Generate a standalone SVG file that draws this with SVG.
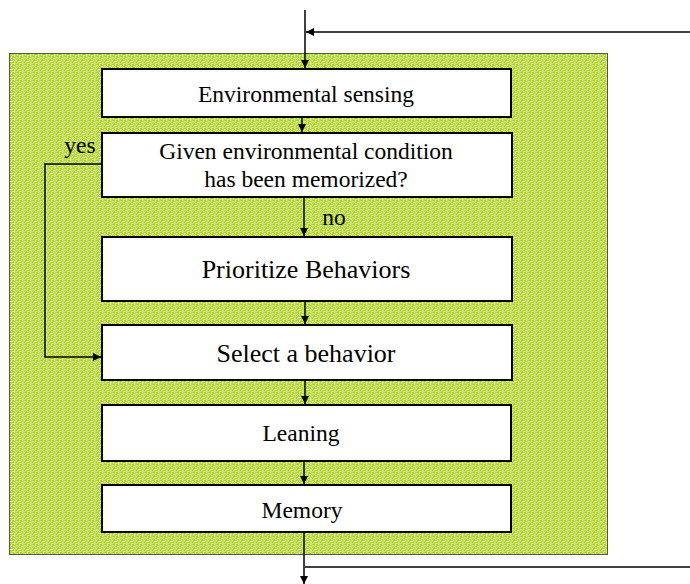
<svg xmlns="http://www.w3.org/2000/svg" width="690" height="584" viewBox="0 0 690 584">
<defs>
<pattern id="tex" width="8" height="8" patternUnits="userSpaceOnUse">
<rect width="8" height="8" fill="#aad61c"/>
<rect x="1" y="1" width="1" height="1" fill="#f2f9dc"/>
<rect x="3" y="0" width="1" height="2" fill="#e0f0a0"/>
<rect x="5" y="2" width="2" height="1" fill="#f2f9dc"/>
<rect x="0" y="4" width="1" height="1" fill="#e4f2ae"/>
<rect x="2" y="5" width="2" height="1" fill="#f4fae2"/>
<rect x="6" y="5" width="1" height="2" fill="#d8ed90"/>
<rect x="4" y="7" width="1" height="1" fill="#eef7c8"/>
<rect x="3" y="3" width="1" height="1" fill="#eaf5bc"/>
<rect x="0" y="1" width="1" height="2" fill="#d4eb84"/>
<rect x="6" y="0" width="1" height="1" fill="#f2f9d6"/>
<rect x="1" y="6" width="1" height="1" fill="#e8f4b4"/>
<rect x="5" y="4" width="1" height="1" fill="#f6fbe6"/>
<rect x="7" y="3" width="1" height="1" fill="#ddef9a"/>
<rect x="2" y="2" width="1" height="1" fill="#d0e978"/>
<rect x="4" y="5" width="1" height="1" fill="#eef7cc"/>
<rect x="1" y="3" width="1" height="1" fill="#f0f8d4"/>
<rect x="6" y="7" width="1" height="1" fill="#e6f3b0"/>
<rect x="0" y="7" width="8" height="1" fill="#d0e880" opacity="0.5"/>
<rect x="7" y="0" width="1" height="8" fill="#d0e880" opacity="0.5"/>
</pattern>
<marker id="ah" viewBox="0 0 10 10" refX="10" refY="5" markerWidth="8" markerHeight="8" markerUnits="userSpaceOnUse" orient="auto">
<path d="M0,0 L10,5 L0,10 z" fill="#000"/>
</marker>
<style>
.box{fill:#fff;stroke:#000;stroke-width:2}
.t{font-family:'Liberation Serif','Times New Roman',serif;fill:#000;text-anchor:middle}
.s{font-size:23.5px}
.l{font-size:26px}
.c{fill:none;stroke:#000;stroke-width:1.5}
</style>
</defs>
<rect id="panel" x="9.5" y="53.5" width="598" height="501" fill="url(#tex)" stroke="#555" stroke-width="1"/>
<g font-family="Liberation Serif, Times New Roman, serif">
<g id="n1"><rect class="box" x="102" y="69" width="409" height="48"/><text class="t s" x="306" y="102">Environmental sensing</text></g>
<g id="n2"><rect class="box" x="102" y="133" width="410" height="64"/><text class="t s" x="306" y="159">Given environmental condition</text><text class="t s" x="306" y="187">has been memorized?</text></g>
<g id="n3"><rect class="box" x="102" y="237" width="410" height="64"/><text class="t l" x="306" y="278">Prioritize Behaviors</text></g>
<g id="n4"><rect class="box" x="102" y="325" width="410" height="55"/><text class="t l" x="306" y="362">Select a behavior</text></g>
<g id="n5"><rect class="box" x="102" y="405" width="409" height="56"/><text class="t s" x="301" y="441">Leaning</text></g>
<g id="n6"><rect class="box" x="102" y="485" width="409" height="47"/><text class="t s" x="302" y="518">Memory</text></g>
<text class="t s" x="80" y="153">yes</text>
<text class="t s" x="334" y="225">no</text>
</g>
<g id="connectors">
<path class="c" d="M305,10 V68" marker-end="url(#ah)"/>
<path class="c" d="M690,32 H306" marker-end="url(#ah)"/>
<path class="c" d="M302,117 V132" marker-end="url(#ah)"/>
<path class="c" d="M304,197 V236" marker-end="url(#ah)"/>
<path class="c" d="M102,164 H45 V357 H101" marker-end="url(#ah)"/>
<path class="c" d="M305,301 V324" marker-end="url(#ah)"/>
<path class="c" d="M305,380 V404" marker-end="url(#ah)"/>
<path class="c" d="M304,461 V484" marker-end="url(#ah)"/>
<path class="c" d="M304,532 V584" marker-end="url(#ah)"/>
<path class="c" d="M305,567 H690"/>
</g>
</svg>
